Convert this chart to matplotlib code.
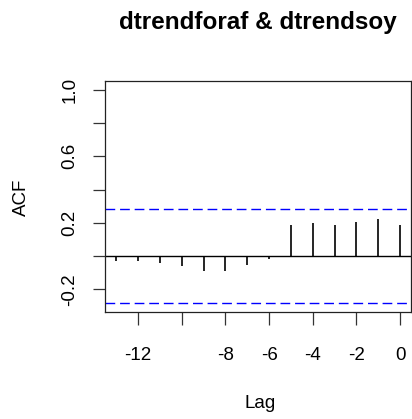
import matplotlib
matplotlib.use("Agg")
import matplotlib.pyplot as plt
import numpy as np

plt.rcParams['font.family'] = ['Liberation Sans', 'DejaVu Sans']

title = "dtrendforaf & dtrendsoy"
lags = [-13, -12, -11, -10, -9, -8, -7, -6, -5, -4, -3, -2, -1, 0]
acf_vals = [-0.032, -0.032, -0.044, -0.062, -0.092, -0.092, -0.054, -0.016,
            0.189, 0.197, 0.189, 0.207, 0.223, 0.189]
conf_limit = 0.284
x_ticks = [-12, -10, -8, -6, -4, -2, 0]
x_tick_labels = ["-12", "", "-8", "-6", "-4", "-2", "0"]
y_ticks = [-0.2, 0.0, 0.2, 0.4, 0.6, 0.8, 1.0]
y_tick_labels = ["-0.2", "", "0.2", "", "0.6", "", "1.0"]

W, H = 412, 419
fig = plt.figure(figsize=(W / 100, H / 100), dpi=100)
left, right, top, bottom = 105, 411.4, 81, 312
ax = fig.add_axes([left / W, 1 - bottom / H, (right - left) / W, (bottom - top) / H])

ax.vlines(lags, 0, acf_vals, colors='black', linewidth=1.2)
ax.axhline(0, color='black', linewidth=1.0)
ax.axhline(conf_limit, color='#0000ff', linewidth=1.0, dashes=(7, 3.5))
ax.axhline(-conf_limit, color='#0000ff', linewidth=1.0, dashes=(7, 3.5))

ylo, yhi = -conf_limit, 1.0
pad = (yhi - ylo) * 0.04
ax.set_ylim(ylo - pad, yhi + pad)
xlo, xhi = min(lags), max(lags)
xpad = (xhi - xlo) * 0.04
ax.set_xlim(xlo - xpad, xhi + xpad)

ax.set_xticks(x_ticks)
ax.set_xticklabels(x_tick_labels)
ax.set_yticks(y_ticks)
ax.set_yticklabels(y_tick_labels, rotation=90, va='center')
ax.tick_params(axis='both', length=9, width=0.9, color='#333333', labelsize=13.5)
ax.tick_params(axis='x', pad=16)
ax.tick_params(axis='y', pad=10)
for s in ax.spines.values():
    s.set_linewidth(0.9)
    s.set_color('#222222')

fig.text(258 / W, 1 - 23 / H, title, ha='center', va='center', fontsize=17.5, fontweight='bold')
fig.text(260 / W, 1 - 403 / H, "Lag", ha='center', va='center', fontsize=13.5)
fig.text(21 / W, 1 - 197 / H, "ACF", ha='center', va='center', fontsize=13.5, rotation=90)

fig.savefig("out.png", dpi=100)
